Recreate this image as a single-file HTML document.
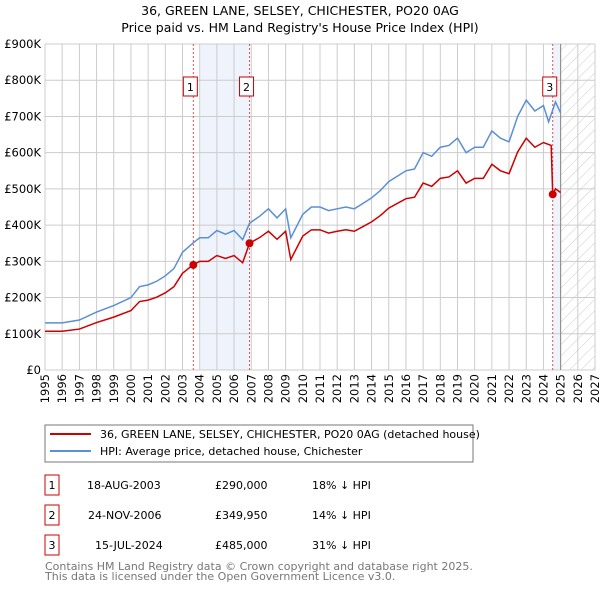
<!DOCTYPE html>
<html><head><meta charset="utf-8"><style>
body{margin:0;background:#fff;font-family:"Liberation Sans","DejaVu Sans",sans-serif}
svg text{font-family:"DejaVu Sans","Liberation Sans",sans-serif}
</style></head><body>
<svg id="c" width="600" height="590" xmlns="http://www.w3.org/2000/svg">
<defs><pattern id="h" width="8" height="8" patternUnits="userSpaceOnUse" patternTransform="rotate(45)"><line x1="0" y1="0" x2="0" y2="8" stroke="#ccc" stroke-width="1"/></pattern></defs>
<text x="300" y="15" text-anchor="middle" font-size="12.5">36, GREEN LANE, SELSEY, CHICHESTER, PO20 0AG</text>
<text x="300" y="32" text-anchor="middle" font-size="12.5">Price paid vs. HM Land Registry's House Price Index (HPI)</text>
<g id="plot"></g>
<rect x="45" y="425" width="428" height="37" fill="#fff" stroke="#777"/>
<line x1="50" y1="434" x2="91" y2="434" stroke="#cc0000" stroke-width="2"/>
<text x="100" y="438" font-size="11">36, GREEN LANE, SELSEY, CHICHESTER, PO20 0AG (detached house)</text>
<line x1="50" y1="451" x2="91" y2="451" stroke="#5b8fd6" stroke-width="2"/>
<text x="100" y="455" font-size="11">HPI: Average price, detached house, Chichester</text>
<g font-size="11">
<rect x="45" y="475" width="14" height="20" fill="none" stroke="#cc0000"/><text x="52" y="489" text-anchor="middle">1</text>
<text x="87" y="489">18-AUG-2003</text><text x="215" y="489">£290,000</text><text x="312" y="489">18% ↓ HPI</text>
<rect x="45" y="505" width="14" height="20" fill="none" stroke="#cc0000"/><text x="52" y="519" text-anchor="middle">2</text>
<text x="88" y="519">24-NOV-2006</text><text x="215" y="519">£349,950</text><text x="312" y="519">14% ↓ HPI</text>
<rect x="45" y="535" width="14" height="20" fill="none" stroke="#cc0000"/><text x="52" y="549" text-anchor="middle">3</text>
<text x="95" y="549">15-JUL-2024</text><text x="215" y="549">£485,000</text><text x="312" y="549">31% ↓ HPI</text>
</g>
<text x="45" y="570" font-size="11" fill="#777">Contains HM Land Registry data © Crown copyright and database right 2025.</text>
<text x="45" y="580" font-size="11" fill="#777">This data is licensed under the Open Government Licence v3.0.</text>
</svg>
<script>
const hpiDates=[1995,1996,1997,1998,1999,2000,2000.5,2001,2001.5,2002,2002.5,2003,2003.6,2004,2004.5,2005,2005.5,2006,2006.5,2006.9,2007.5,2008,2008.5,2009,2009.3,2010,2010.5,2011,2011.5,2012,2012.5,2013,2013.5,2014,2014.5,2015,2016,2016.5,2017,2017.5,2018,2018.5,2019,2019.5,2020,2020.5,2021,2021.5,2022,2022.5,2023,2023.5,2024,2024.3,2024.7,2025];
const hpiValues=[130,130,138,160,178,200,230,235,245,260,280,325,350,365,365,385,375,385,360,405,425,445,420,445,365,430,450,450,440,445,450,445,460,475,495,520,550,555,600,590,615,620,640,600,615,615,660,640,630,700,745,715,730,685,740,710];
const paidDates=[1995,1996,1997,1998,1999,2000,2000.5,2001,2001.5,2002,2002.5,2003,2003.6,2004,2004.5,2005,2005.5,2006,2006.5,2006.9,2007.5,2008,2008.5,2009,2009.3,2010,2010.5,2011,2011.5,2012,2012.5,2013,2013.5,2014,2014.5,2015,2016,2016.5,2017,2017.5,2018,2018.5,2019,2019.5,2020,2020.5,2021,2021.5,2022,2022.5,2023,2023.5,2024,2024.45,2024.54,2024.7,2025];
const paidValues=[107,107,113,131,146,164,189,193,201,213,230,267,290,300,300,316,308,316,296,350,366,383,361,383,305,370,387,387,378,383,387,383,396,409,426,447,473,477,516,507,529,533,550,516,529,529,568,550,542,602,640,615,628,620,485,500,490];
const saleLabels=["1","2","3"];
const saleDates=[2003.63,2006.9,2024.54];
const saleValues=[290,349.95,485];
const yTicks=[0,100,200,300,400,500,600,700,800,900];
const yTickLabels=["£0","£100K","£200K","£300K","£400K","£500K","£600K","£700K","£800K","£900K"];
const xYears=[1995,1996,1997,1998,1999,2000,2001,2002,2003,2004,2005,2006,2007,2008,2009,2010,2011,2012,2013,2014,2015,2016,2017,2018,2019,2020,2021,2022,2023,2024,2025,2026,2027];
const X0=45,X1=595,Y0=370,Y1=44;
const xs=t=>X0+(t-1995)/(2027-1995)*(X1-X0);
const ys=v=>Y0-v/900*(Y0-Y1);
const NS="http://www.w3.org/2000/svg",g=document.getElementById('plot');
function mk(tag,at,txt){const e=document.createElementNS(NS,tag);for(const k in at)e.setAttribute(k,at[k]);if(txt!==undefined)e.textContent=txt;g.appendChild(e);return e;}
let e;
e=mk('rect',{x:xs(2004),y:Y1,width:xs(2006.9)-xs(2004),height:Y0-Y1,fill:'#eef3fc'});


e=mk('rect',{x:xs(2024.54),y:Y1,width:xs(2025)-xs(2024.54),height:Y0-Y1,fill:'#eef3fc'});


e=mk('rect',{x:xs(2025),y:Y1,width:X1-xs(2025),height:Y0-Y1,fill:'url(#h)'});


yTicks.forEach((v,i)=>{
 e=mk('line',{x1:X0,x2:X1,y1:ys(v),y2:ys(v),stroke:'#ccc'});
 
 
 e=mk('text',{x:X0-4,y:ys(v)+4,'text-anchor':'end','font-size':11.5},yTickLabels[i]);
 
 
});
xYears.forEach(yr=>{
 e=mk('line',{x1:xs(yr),x2:xs(yr),y1:Y1,y2:Y0,stroke:'#ccc'});
 
 
 e=mk('text',{x:0,y:0,'font-size':11.5,'text-anchor':'end',transform:`translate(${xs(yr)+4},${Y0+4}) rotate(-90)`},yr);
 
 
});
e=mk('line',{x1:xs(2025),x2:xs(2025),y1:Y1,y2:Y0,stroke:'#888'});


saleDates.forEach((d,i)=>{
 e=mk('line',{x1:xs(d),x2:xs(d),y1:Y1,y2:Y0,stroke:'#e05050','stroke-dasharray':'2,2'});
 
 
});
e=mk('polyline',{points:hpiDates.map((d,i)=>xs(d)+','+ys(hpiValues[i])).join(' '),fill:'none',stroke:'#5b8fd6','stroke-width':1.5});


e=mk('polyline',{points:paidDates.map((d,i)=>xs(d)+','+ys(paidValues[i])).join(' '),fill:'none',stroke:'#cc0000','stroke-width':1.5});


saleDates.forEach((d,i)=>{
 e=mk('circle',{cx:xs(d),cy:ys(saleValues[i]),r:4,fill:'#cc0000'});
 
 
 e=mk('rect',{x:xs(d)-10,y:77,width:14,height:19,fill:'#fff',stroke:'#cc0000'});
 
 
 e=mk('text',{x:xs(d)-3,y:91,'text-anchor':'middle','font-size':11},saleLabels[i]);
 
 
});
</script>
</body></html>
